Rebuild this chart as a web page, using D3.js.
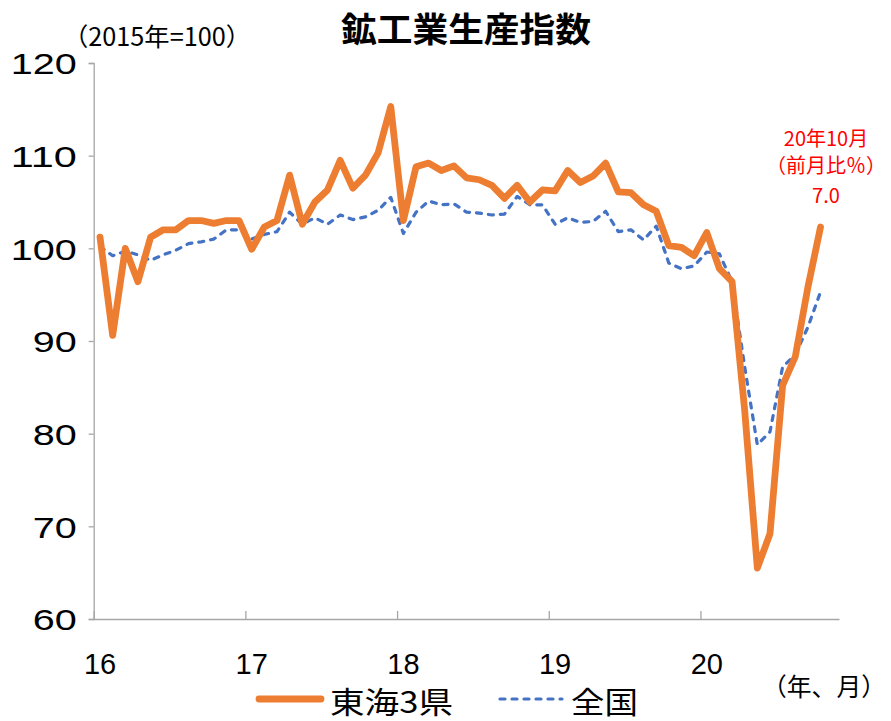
<!DOCTYPE html>
<html><head><meta charset="utf-8">
<script src="https://cdn.jsdelivr.net/npm/d3@7"></script>
<style>
html,body{margin:0;padding:0;background:#fff;}
svg{display:block;}
text{font-family:"Liberation Sans","Noto Sans CJK JP",sans-serif;}
.cjk{font-family:"Noto Sans CJK JP","Noto Sans",sans-serif;}
</style></head>
<body><svg id="c" width="891" height="721"></svg>
<script>
// ---- data ----
const yearLabels = ["16","17","18","19","20"];
const nCategories = 59; // Jan 2016 .. Nov 2020 category slots
const tokai = [
  101.2, 90.6, 100.0, 96.4, 101.2, 102.0, 102.0, 103.0, 103.0, 102.7, 103.0, 103.0,
  99.9, 102.3, 103.0, 107.9, 102.6, 105.0, 106.3, 109.5, 106.5, 107.9, 110.3, 115.3,
  103.0, 108.8, 109.2, 108.4, 108.9, 107.6, 107.4, 106.8, 105.4, 106.8, 105.0, 106.3,
  106.2, 108.4, 107.1, 107.8, 109.2, 106.1, 106.0, 104.7, 104.0, 100.3, 100.1, 99.2,
  101.7, 97.8, 96.4, 82.5, 65.5, 69.2, 85.2, 88.3, 95.8, 102.3
];
const national = [
  100.2, 99.2, 99.7, 99.3, 98.7, 99.3, 99.8, 100.5, 100.7, 101.0, 102.0, 102.0,
  101.0, 101.5, 101.8, 103.9, 102.6, 103.3, 102.6, 103.6, 103.1, 103.4, 104.1, 105.5,
  101.6, 103.9, 105.1, 104.7, 104.8, 103.9, 103.8, 103.6, 103.7, 105.6, 104.7, 104.7,
  102.6, 103.3, 102.8, 102.9, 104.0, 101.8, 102.0, 100.9, 102.4, 98.4, 97.8, 98.1,
  99.6, 99.4, 96.4, 87.2, 78.8, 80.2, 87.2, 88.5, 91.5, 95.3
];
const yTicks = [60, 70, 80, 90, 100, 110, 120];
const seriesNames = ["東海3県", "全国"];
const titleText = "鉱工業生産指数";
const unitText = "（2015年=100）";
const xUnitText = "（年、月）";
const noteLines = ["20年10月", "（前月比％）", "7.0"];

// ---- drawing ----
const svg = d3.select("#c");
const pLeft = 93.7, pRight = 839.5, pTop = 63, pBottom = 619;
const xl = d3.scaleLinear().domain([0, nCategories]).range([pLeft, pRight]);
const y = d3.scaleLinear().domain([60, 120]).range([pBottom, pTop]);
const axisColor = "#a6a6a6";

// y axis
const ya = svg.append("g").attr("transform", `translate(${pLeft},0)`)
  .call(d3.axisLeft(y).tickValues(yTicks).tickSize(5).tickPadding(12).tickFormat(d3.format("d")));
ya.selectAll("path,line").attr("stroke", axisColor).attr("stroke-width", 1.3);
ya.selectAll("text").attr("font-size", 30).attr("fill", "#000").attr("font-family", "Liberation Sans")
  .attr("dy", "0.36em")
  .attr("textLength", d => String(d).length * 22).attr("lengthAdjust", "spacingAndGlyphs");

// x axis
const xa = svg.append("g").attr("transform", `translate(0,${pBottom})`)
  .call(d3.axisBottom(xl).tickValues(yearLabels.map((d, i) => i * 12)).tickSize(-8).tickFormat(""));
xa.selectAll("path,line").attr("stroke", axisColor).attr("stroke-width", 1.3);
xa.select(".domain").attr("d", `M${pLeft},0.5H${pRight}`);
svg.append("g").selectAll("text").data(yearLabels).join("text")
  .attr("x", (d, i) => xl(i * 12 + 0.5)).attr("y", 674)
  .attr("text-anchor", "middle").attr("font-size", 29).attr("fill", "#000")
  .text(d => d);

// lines
const line = d3.line().x((d, i) => xl(i + 0.5)).y(d => y(d));
svg.append("path").datum(national).attr("d", line)
  .attr("fill", "none").attr("stroke", "#4472C4").attr("stroke-width", 3.2)
  .attr("stroke-dasharray", "5,7").attr("stroke-linecap", "round").attr("stroke-linejoin", "round");
svg.append("path").datum(tokai).attr("d", line)
  .attr("fill", "none").attr("stroke", "#ED7D31").attr("stroke-width", 6.8)
  .attr("stroke-linecap", "round").attr("stroke-linejoin", "round");

// title & unit
svg.append("text").attr("class", "cjk").attr("x", 466).attr("y", 42)
  .attr("text-anchor", "middle").attr("font-size", 34).attr("font-weight", "bold")
  .attr("textLength", 250).attr("lengthAdjust", "spacingAndGlyphs").text(titleText);
svg.append("text").attr("class", "cjk").attr("x", 63).attr("y", 46)
  .attr("font-size", 25).attr("textLength", 188).attr("lengthAdjust", "spacingAndGlyphs")
  .text(unitText);
svg.append("text").attr("class", "cjk").attr("x", 762).attr("y", 696)
  .attr("font-size", 25).attr("textLength", 124).attr("lengthAdjust", "spacingAndGlyphs")
  .text(xUnitText);

// annotation
svg.append("g").selectAll("text").data(noteLines).join("text")
  .attr("class", "cjk").attr("x", 826).attr("y", (d, i) => [146, 173, 203][i])
  .attr("text-anchor", "middle").attr("font-size", 20).attr("fill", "#FF0000")
  .text(d => d);

// legend
const lg = svg.append("g");
lg.append("line").attr("x1", 259).attr("x2", 321).attr("y1", 699).attr("y2", 699)
  .attr("stroke", "#ED7D31").attr("stroke-width", 6.8).attr("stroke-linecap", "round");
lg.append("text").attr("class", "cjk").attr("x", 330).attr("y", 713).attr("font-size", 30)
  .attr("textLength", 123).attr("lengthAdjust", "spacingAndGlyphs").text(seriesNames[0]);
lg.append("line").attr("x1", 500).attr("x2", 562).attr("y1", 699).attr("y2", 699)
  .attr("stroke", "#4472C4").attr("stroke-width", 3.2).attr("stroke-dasharray", "5,7")
  .attr("stroke-linecap", "round");
lg.append("text").attr("class", "cjk").attr("x", 571).attr("y", 713).attr("font-size", 30)
  .attr("textLength", 67).attr("lengthAdjust", "spacingAndGlyphs").text(seriesNames[1]);
</script></body></html>
